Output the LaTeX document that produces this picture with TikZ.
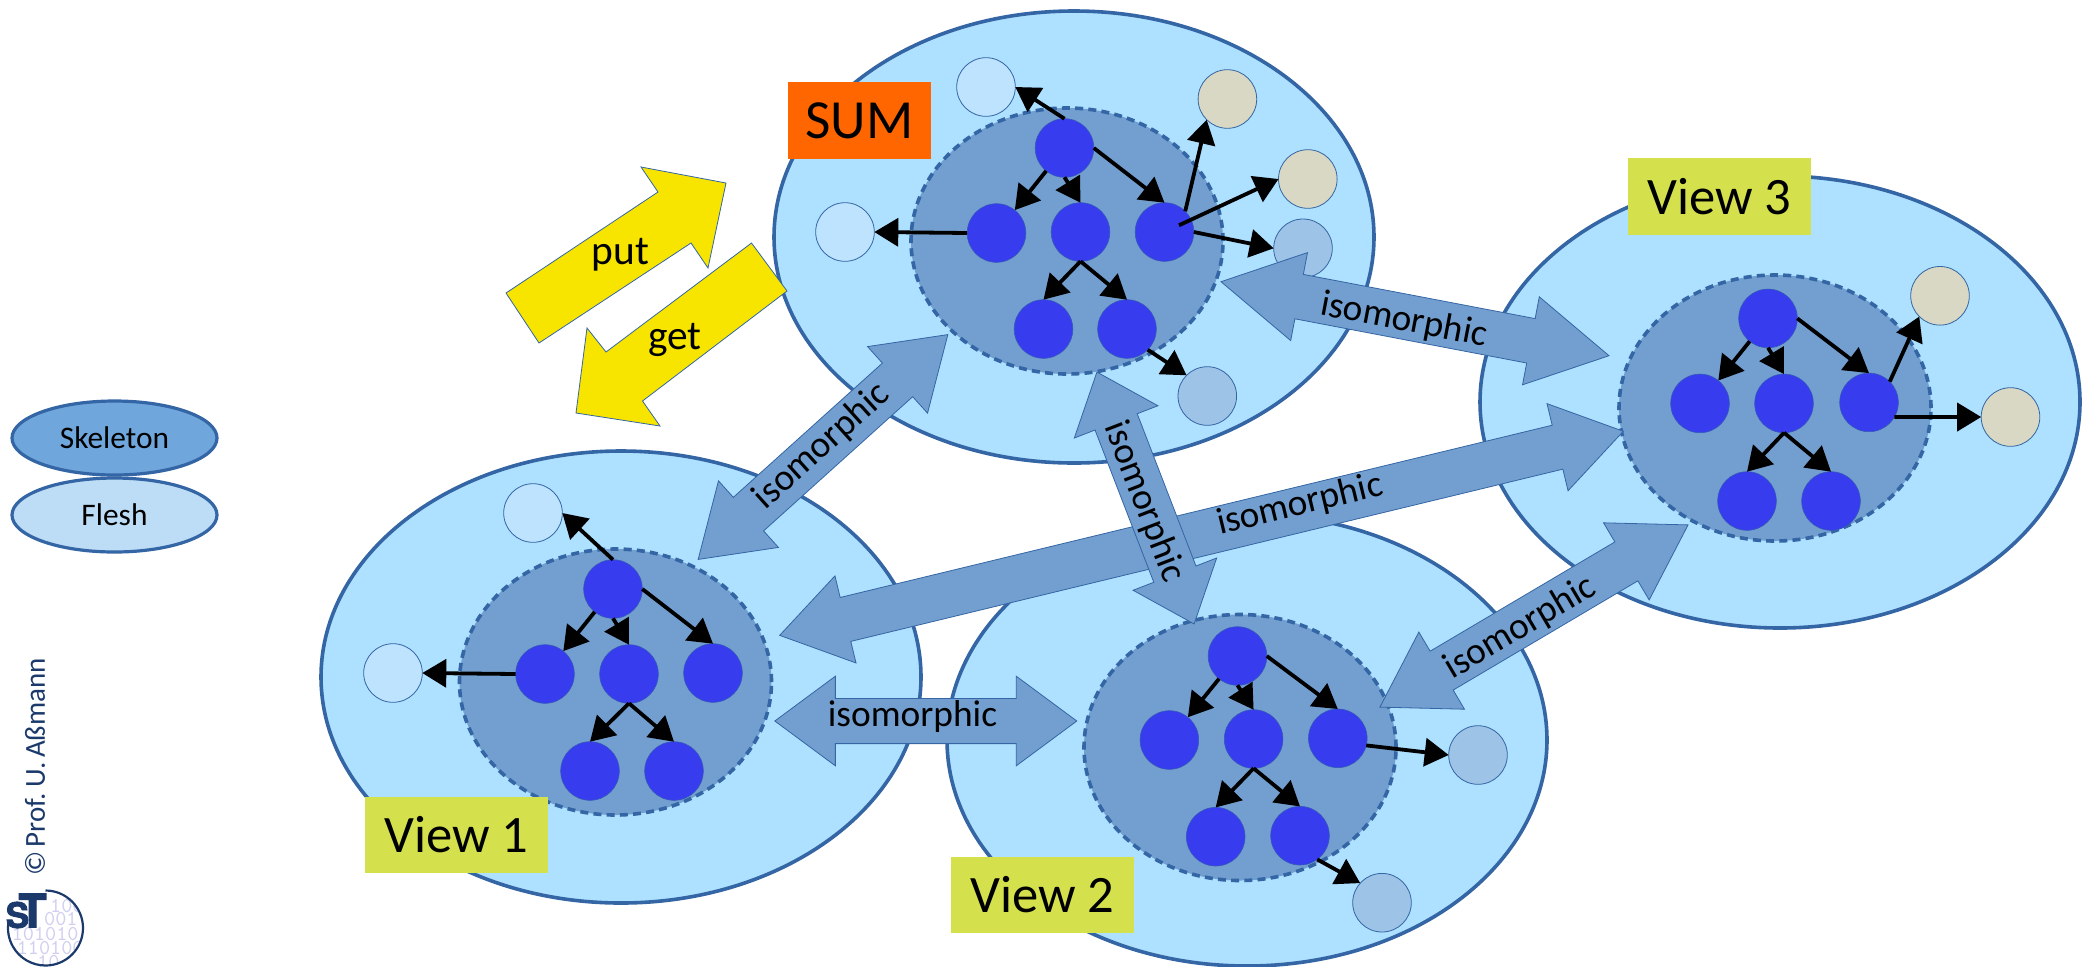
\documentclass[tikz,border=0pt]{standalone}
\usepackage{fontspec}
\setmainfont{Carlito}
\newfontfamily\logofont[BoldFeatures={FakeBold=2.5}]{TeX Gyre Heros}
\usetikzlibrary{arrows.meta, shapes.geometric, shapes.arrows}
\definecolor{rim}{HTML}{3465A4}
\definecolor{skel}{HTML}{729FCF}
\definecolor{sky}{HTML}{AEE0FF}
\definecolor{knob}{HTML}{373CEE}
\definecolor{fleshl}{HTML}{BDE3FF}
\definecolor{fleshb}{HTML}{9DC3E6}
\definecolor{fleshd}{HTML}{D8D8C4}
\definecolor{lime}{HTML}{D4E14C}
\definecolor{navy}{HTML}{1B3A6B}
\definecolor{digit}{HTML}{CFCFF0}
\definecolor{sumtint}{HTML}{FF6600}
\definecolor{swaptint}{HTML}{F7E500}
\definecolor{legskeltint}{HTML}{6FA6DC}
\definecolor{legfleshtint}{HTML}{BDDCF5}

\begin{document}
\begin{tikzpicture}[
    x=0.5pt, y=-0.5pt,
    model/.style={draw=rim,ellipse,fill=sky,line width=1.8pt,minimum width=300pt,minimum height=226pt,inner sep=0pt,outer sep=0pt},
    skeleton/.style={draw=rim,ellipse,fill=skel,line width=1.8pt,dash pattern=on 4pt off 2.6pt,minimum width=156pt,minimum height=133pt,inner sep=0pt,outer sep=0pt},
    item/.style={draw=rim!70!knob,line width=0.3pt,circle,fill=knob,minimum size=29.3pt,inner sep=0pt,outer sep=0pt},
    flesh/.style={draw=rim,line width=0.4pt,circle,minimum size=29.3pt,inner sep=0pt,outer sep=0pt},
    link/.style={draw,line width=1.9pt,-{Triangle[length=12pt,width=14pt]}},
    iso/.style={draw=rim,line width=0.4pt,fill=skel,double arrow,double arrow head extend=11.1pt,inner xsep=0pt,inner ysep=11.1pt,outer sep=0pt},
    isotext/.style={font=\fontsize{18.7}{20}\selectfont,inner sep=0pt},
    tag/.style={minimum height=38.3pt,inner sep=0pt,font=\fontsize{26.3}{28}\selectfont},
    swap/.style={draw=rim,line width=0.4pt,fill=swaptint},
    legend/.style={draw=rim,ellipse,line width=1.6pt,minimum width=102.5pt,minimum height=37pt,inner sep=0pt,font=\fontsize{15.7}{17}\selectfont},
    bits/.style={font=\ttfamily\fontsize{10.6}{11}\selectfont,text=digit,inner sep=0pt}]
  \useasboundingbox (0,0) rectangle (2089,966);

  \node[model] (summodel) at (1074,237) {};
  \node[model] (v3model) at (1780,402) {};
  \node[model] (v1model) at (621,677) {};
  \node[model] (v2model) at (1247,740) {};
  \node[skeleton] (sumskel) at (1067,241) {};
  \node[skeleton] (v3skel) at (1775,408) {};
  \node[skeleton] (v1skel) at (615.5,682) {};
  \node[skeleton] (v2skel) at (1240,747.5) {};

  \node[item] (sumtop) at (1064.5,148) {};
  \node[item] (sumleft) at (996.5,233) {};
  \node[item] (sumcen) at (1080.5,232) {};
  \node[item] (sumright) at (1164.5,232) {};
  \node[item] (sumbl) at (1043.5,329) {};
  \node[item] (sumbr) at (1127,329) {};
  \node[flesh,fill=fleshl] (sumful) at (986,87) {};
  \node[flesh,fill=fleshl] (sumfleft) at (845,232) {};
  \node[flesh,fill=fleshd] (sumftana) at (1227.4,99) {};
  \node[flesh,fill=fleshd] (sumftanb) at (1307.8,179) {};
  \node[flesh,fill=fleshb] (sumfblua) at (1303,248.3) {};
  \node[flesh,fill=fleshb] (sumfblub) at (1207.3,396) {};
  \draw[link] (sumtop.north) -- (sumful.east);
  \draw[link] (sumtop) -- (sumleft);
  \draw[link] (sumtop.south) -- (sumcen.north);
  \draw[link] (sumtop.east) -- (sumright.north);
  \draw[link] (sumcen.south) -- (sumbl.north);
  \draw[link] (sumcen.south) -- (sumbr.north);
  \draw[link] (sumleft.west) -- (sumfleft.east);
  \draw[link] (sumright.45) -- (sumftana.225);
  \draw[link,shorten <=8pt] (sumright.center) -- (sumftanb.west);
  \draw[link] (sumright.east) -- (sumfblua.west);
  \draw[link] (sumbr.-45) -- (sumfblub.135);

  \node[item] (v3top) at (1768,318.4) {};
  \node[item] (v3left) at (1700,403.4) {};
  \node[item] (v3cen) at (1784,403.4) {};
  \node[item] (v3right) at (1869,402.4) {};
  \node[item] (v3bl) at (1747,501) {};
  \node[item] (v3br) at (1831,501) {};
  \node[flesh,fill=fleshd] (v3ftana) at (1940,295.8) {};
  \node[flesh,fill=fleshd] (v3ftanb) at (2010.5,417) {};
  \draw[link] (v3top) -- (v3left);
  \draw[link] (v3top.south) -- (v3cen.north);
  \draw[link] (v3top.east) -- (v3right.north);
  \draw[link] (v3cen.south) -- (v3bl.north);
  \draw[link] (v3cen.south) -- (v3br.north);
  \draw[link] (v3right.45) -- (v3ftana.225);
  \draw[link] (v3right.-30) -- (v3ftanb.west);

  \node[item] (v1top) at (613,589) {};
  \node[item] (v1left) at (545,674) {};
  \node[item] (v1cen) at (629,674) {};
  \node[item] (v1right) at (713,673) {};
  \node[item] (v1bl) at (590,771) {};
  \node[item] (v1br) at (674,771) {};
  \node[flesh,fill=fleshl] (v1ful) at (533,513) {};
  \node[flesh,fill=fleshl] (v1fleft) at (393,673) {};
  \draw[link] (v1top.north) -- (v1ful.east);
  \draw[link] (v1top) -- (v1left);
  \draw[link] (v1top.south) -- (v1cen.north);
  \draw[link] (v1top.east) -- (v1right.north);
  \draw[link] (v1cen.south) -- (v1bl.north);
  \draw[link] (v1cen.south) -- (v1br.north);
  \draw[link] (v1left.west) -- (v1fleft.east);

  \node[item] (v2top) at (1237.5,656) {};
  \node[item] (v2left) at (1169.4,740) {};
  \node[item] (v2cen) at (1253.6,739) {};
  \node[item] (v2right) at (1337.8,738.3) {};
  \node[item] (v2bl) at (1215.7,836.7) {};
  \node[item] (v2br) at (1300,835.7) {};
  \node[flesh,fill=fleshb] (v2fblua) at (1478,755) {};
  \node[flesh,fill=fleshb] (v2fblub) at (1382,902.7) {};
  \draw[link] (v2top) -- (v2left);
  \draw[link] (v2top.south) -- (v2cen.north);
  \draw[link] (v2top.east) -- (v2right.north);
  \draw[link] (v2cen.south) -- (v2bl.north);
  \draw[link] (v2cen.south) -- (v2br.north);
  \draw[link] (v2right.-14) -- (v2fblua.west);
  \draw[link] (v2br.-54) -- (v2fblub.138);

  \node[iso,rotate=-10.8,minimum height=197.5pt,double arrow tip angle=58.8] (isosv3) at (1415,318.7) {};
  \node[iso,rotate=42,minimum height=168pt,double arrow tip angle=67] (isosv1) at (823,447) {};
  \node[iso,rotate=13.6,minimum height=434pt,double arrow tip angle=67] (isov1v3) at (1201.5,533.3) {};
  \node[iso,rotate=-68.9,minimum height=135pt,double arrow tip angle=80] (isosv2) at (1145.5,498) {};
  \node[iso,minimum height=151pt,double arrow tip angle=73] (isov1v2) at (925.8,721) {};
  \node[iso,rotate=30.6,minimum height=179pt,double arrow tip angle=64] (isov2v3) at (1534,616) {};
  \node[isotext,rotate=-10.8] (txtsv3) at (1404,320.7) {isomorphic};
  \node[isotext,rotate=42] (txtsv1) at (822,446) {isomorphic};
  \node[isotext,rotate=13.5] (txtv1v3) at (1300,505) {isomorphic};
  \node[isotext,rotate=-69] (txtsv2) at (1144,502) {isomorphic};
  \node[isotext] (txtv1v2) at (912.5,717) {isomorphic};
  \node[isotext,rotate=30.6] (txtv2v3) at (1520.7,628) {isomorphic};

  \node[tag,fill=sumtint,minimum width=71.5pt,font=\fontsize{27.6}{28}\selectfont] (sumtag) at (859.5,120.5) {SUM};
  \node[tag,fill=lime,minimum width=91.5pt] (v3tag) at (1719.5,196.5) {View 3};
  \node[tag,fill=lime,minimum width=91.5pt] (v1tag) at (456.5,835) {View 1};
  \node[tag,fill=lime,minimum width=91.5pt] (v2tag) at (1042.5,895) {View 2};

  \draw[swap] (506,293) -- (658,192) -- (641,167) -- (726,183) -- (708,268) -- (691,243) -- (539,343) -- cycle;
  \draw[swap] (751.5,243) -- (787,291) -- (642.5,401) -- (660,426) -- (576,413) -- (587,328) -- (606,352) -- cycle;
  \node[font=\fontsize{20.7}{22}\selectfont,inner sep=0pt] (puttext) at (620.6,255) {put};
  \node[font=\fontsize{20.7}{22}\selectfont,inner sep=0pt] (gettext) at (675,340) {get};

  \node[legend,fill=legskeltint] (legskel) at (114.5,438) {Skeleton};
  \node[legend,fill=legfleshtint] (legflesh) at (114.5,515) {Flesh};

  \node[rotate=90,text=navy,font=\fontsize{14.5}{16}\selectfont,inner sep=0pt] (copy) at (35,767) {\spaceskip=2pt © Prof. U. Aßmann};

  \begin{scope}
    \clip (45.5,928) circle (37.5);
    \node[bits,anchor=east] (bita) at (84,906) {100};
    \node[bits,anchor=east] (bitb) at (78,919) {001};
    \node[bits,anchor=east] (bitc) at (79,934) {101010};
    \node[bits,anchor=east] (bitd) at (84,948) {110100};
    \node[bits,anchor=east] (bite) at (60,962) {10};
  \end{scope}
  \draw[navy,line width=1.1pt] (45.5,890.5) arc[start angle=-90,end angle=190,radius=37.5];
  \node[text=navy,font=\logofont\bfseries\fontsize{23}{23}\selectfont,inner sep=0pt] (logot) at (32.5,910.5) {T};
  \node[text=navy,font=\logofont\bfseries\fontsize{17.5}{18}\selectfont,inner sep=0pt] (logos) at (17.5,915) {S};
\end{tikzpicture}
\end{document}
